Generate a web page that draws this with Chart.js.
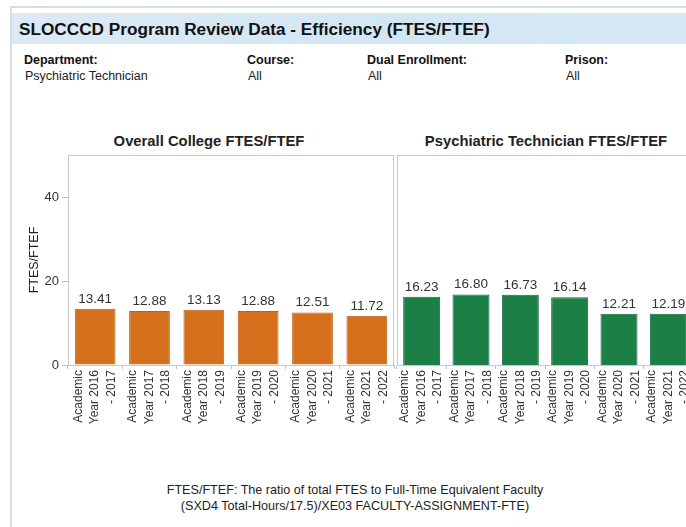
<!DOCTYPE html>
<html>
<head>
<meta charset="utf-8">
<script src="https://cdn.jsdelivr.net/npm/chart.js@4/dist/chart.umd.min.js"></script>
<style>
    body {
        margin: 0;
        width: 686px;
        height: 527px;
        overflow: hidden;
        position: relative;
        background: #fff;
        font-family: Arial, "Liberation Sans", sans-serif;
        color: #222;
    }
    .abs { position: absolute; }
    #frame-top { left: 11px; top: 6px; width: 675px; height: 2px; background: #dcdcdc; }
    #frame-left { left: 10px; top: 6px; width: 2px; height: 521px; background: #dcdcdc; }
    #band {
        left: 12px; top: 13px; width: 674px; height: 31px;
        background: linear-gradient(to right, #dbeaf5 0%, #d3e6f4 60%, #d6e8f5 100%);
    }
    #title { left: 19px; top: 19px; font-size: 17.2px; font-weight: bold; color: #111; white-space: nowrap; }
    .flabel { font-size: 12.5px; font-weight: bold; color: #111; top: 53px; white-space: nowrap; }
    .fvalue { font-size: 12.5px; color: #222; top: 69px; white-space: nowrap; }
    .ptitle { font-size: 14.8px; font-weight: bold; color: #222; top: 133px; white-space: nowrap; transform: translateX(-50%); }
    #note { left: 0; width: 710px; top: 482px; text-align: center; font-size: 12.6px; line-height: 16px; color: #222; }
    .wrap { position: absolute; top: 100px; height: 350px; }
</style>
</head>
<body>
<div class="abs" id="frame-top"></div>
<div class="abs" id="frame-left"></div>
<div class="abs" id="band"></div>
<div class="abs" id="title">SLOCCCD Program Review Data - Efficiency (FTES/FTEF)</div>

<div class="abs flabel" style="left:24px">Department:</div>
<div class="abs fvalue" style="left:25px">Psychiatric Technician</div>
<div class="abs flabel" style="left:247px">Course:</div>
<div class="abs fvalue" style="left:248px">All</div>
<div class="abs flabel" style="left:367px">Dual Enrollment:</div>
<div class="abs fvalue" style="left:368px">All</div>
<div class="abs flabel" style="left:565px">Prison:</div>
<div class="abs fvalue" style="left:566px">All</div>

<div class="abs ptitle" style="left:209px">Overall College FTES/FTEF</div>
<div class="abs ptitle" style="left:546px">Psychiatric Technician FTES/FTEF</div>

<div class="wrap" style="left:0;width:397px"><canvas id="collegeChart"></canvas></div>
<div class="wrap" style="left:390px;width:304px"><canvas id="programChart"></canvas></div>

<div class="abs" id="note">FTES/FTEF: The ratio of total FTES to Full-Time Equivalent Faculty<br>(SXD4 Total-Hours/17.5)/XE03 FACULTY-ASSIGNMENT-FTE)</div>

<script>
const years = [
    ['Academic', 'Year 2016', '- 2017'],
    ['Academic', 'Year 2017', '- 2018'],
    ['Academic', 'Year 2018', '- 2019'],
    ['Academic', 'Year 2019', '- 2020'],
    ['Academic', 'Year 2020', '- 2021'],
    ['Academic', 'Year 2021', '- 2022']
];
const collegeValues = [13.41, 12.88, 13.13, 12.88, 12.51, 11.72];
const programValues = [16.23, 16.80, 16.73, 16.14, 12.21, 12.19];
const yTicks = [0, 20, 40];
const yMax = 50;

const fontFamily = 'Arial, "Liberation Sans", sans-serif';

// value above every bar
const valueLabels = {
    id: 'valueLabels',
    afterDatasetsDraw(chart) {
        const ctx = chart.ctx;
        const meta = chart.getDatasetMeta(0);
        const values = chart.data.datasets[0].data;
        ctx.save();
        ctx.font = '13.5px ' + fontFamily;
        ctx.fillStyle = '#333';
        ctx.textAlign = 'center';
        ctx.textBaseline = 'bottom';
        meta.data.forEach((bar, i) => {
            ctx.fillText(values[i].toFixed(2), bar.x, bar.y - 3);
        });
        ctx.restore();
    }
};

// rotated three-line category labels, read bottom to top
const yearLabels = {
    id: 'yearLabels',
    afterDraw(chart) {
        const ctx = chart.ctx;
        const xs = chart.scales.x;
        const top = chart.chartArea.bottom + 5;
        ctx.save();
        ctx.font = '12px ' + fontFamily;
        ctx.fillStyle = '#333';
        ctx.textAlign = 'right';
        ctx.textBaseline = 'middle';
        chart.data.labels.forEach((lines, i) => {
            const x = xs.getPixelForTick(i);
            lines.forEach((line, j) => {
                ctx.save();
                ctx.translate(x + (j - 1) * 16.5, top);
                ctx.rotate(-Math.PI / 2);
                ctx.fillText(line, 0, 0);
                ctx.restore();
            });
        });
        ctx.restore();
    }
};

// grey box round the plot area
const plotFrame = {
    id: 'plotFrame',
    beforeDatasetsDraw(chart) {
        const a = chart.chartArea;
        const ctx = chart.ctx;
        ctx.save();
        ctx.strokeStyle = '#c9c9c9';
        ctx.lineWidth = 1;
        ctx.strokeRect(a.left + 0.5, a.top + 0.5, a.right - a.left - 1, a.bottom - a.top);
        ctx.restore();
    }
};

function makeChart(id, values, fill, border, showY, padding) {
    return new Chart(document.getElementById(id), {
        type: 'bar',
        data: {
            labels: years,
            datasets: [{
                data: values,
                backgroundColor: fill,
                borderColor: border,
                borderWidth: 1,
                barPercentage: 0.75,
                categoryPercentage: 1
            }]
        },
        options: {
            responsive: true,
            maintainAspectRatio: false,
            animation: false,
            layout: { padding: padding },
            plugins: {
                legend: { display: false },
                tooltip: { enabled: false }
            },
            scales: {
                x: {
                    grid: { drawOnChartArea: false, offset: true, tickLength: 4, color: '#a9c1d9' },
                    border: { display: true, color: '#c9c9c9' },
                    ticks: { display: false },
                    afterFit: s => { s.height = 85; }
                },
                y: {
                    display: showY,
                    min: 0,
                    max: yMax,
                    grid: { drawOnChartArea: false, tickLength: 6, color: '#bbb' },
                    border: { display: false },
                    ticks: {
                        stepSize: 20,
                        padding: 3,
                        color: '#333',
                        font: { size: 13, family: fontFamily }
                    },
                    afterBuildTicks: s => { s.ticks = yTicks.map(v => ({ value: v })); },
                    title: {
                        display: true,
                        text: 'FTES/FTEF',
                        color: '#222',
                        font: { size: 12.5, family: fontFamily },
                        padding: { top: 27, bottom: 0 }
                    },
                    afterFit: s => { s.width = showY ? 68 : 0; }
                }
            }
        },
        plugins: [plotFrame, valueLabels, yearLabels]
    });
}

makeChart('collegeChart', collegeValues, '#d5711d', '#bd6116', true,
    { top: 55, right: 3, left: 0, bottom: 0 });
makeChart('programChart', programValues, '#1b7f46', '#136a39', false,
    { top: 55, right: 1, left: 7, bottom: 0 });
</script>
</body>
</html>
